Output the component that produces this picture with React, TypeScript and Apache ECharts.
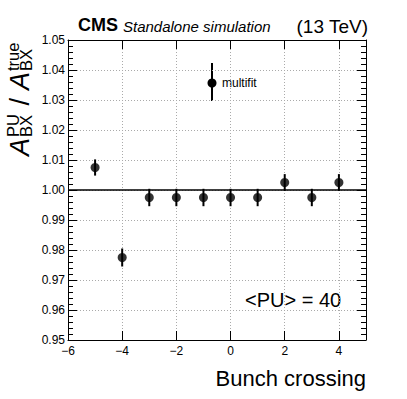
import React, { useEffect, useRef } from "react";
import * as echarts from "echarts";

const bunchCrossing = [-5, -4, -3, -2, -1, 0, 1, 2, 3, 4];
const ratio = [1.0075, 0.9775, 0.9975, 0.9975, 0.9975, 0.9975, 0.9975, 1.0025, 0.9975, 1.0025];
const ratioErr = [0.0027, 0.003, 0.0029, 0.0029, 0.0029, 0.0029, 0.0029, 0.0028, 0.0029, 0.0028];
const xRange = [-6, 5];
const yRange = [0.95, 1.05];
const referenceLine = 1.0;
const seriesName = "multifit";
const annotation = "<PU> = 40";

const FONT = "'Liberation Sans', Arial, Helvetica, sans-serif";

export default function App() {
  const ref = useRef<HTMLDivElement>(null);
  useEffect(() => {
    if (!ref.current) return;
    const chart = echarts.init(ref.current, null, { renderer: "svg" });
    const points = bunchCrossing.map((x, i) => [x, ratio[i]]);
    const errs = bunchCrossing.map((x, i) => [x, ratio[i] - ratioErr[i], ratio[i] + ratioErr[i]]);
    const fmtX = (v: number) => String(v).replace("-", "\u2212");
    const tickCommon = { show: true, inside: true, length: 9, lineStyle: { color: "#000", width: 1 } };
    const minorCommon = { show: true, splitNumber: 5, length: 5, lineStyle: { color: "#000", width: 1 } };
    const option: any = {
      animation: false,
      backgroundColor: "#fff",
      textStyle: { fontFamily: FONT },
      grid: { left: 68, right: 41, top: 40, bottom: 59, containLabel: false },
      xAxis: [
        {
          type: "value",
          min: xRange[0],
          max: xRange[1],
          interval: 2,
          position: "bottom",
          axisLine: { show: true, onZero: false, lineStyle: { color: "#000", width: 1 } },
          axisTick: tickCommon,
          splitLine: { show: true, lineStyle: { color: "#aaa", type: [1, 2], width: 1 } },
          axisLabel: {
            show: true,
            color: "#000",
            fontSize: 12,
            fontFamily: FONT,
            margin: 5,
            showMaxLabel: false,
            formatter: fmtX,
          },
        },
        {
          type: "value",
          min: xRange[0],
          max: xRange[1],
          interval: 2,
          position: "top",
          axisLine: { show: true, onZero: false, lineStyle: { color: "#000", width: 1 } },
          axisTick: tickCommon,
          splitLine: { show: false },
          axisLabel: { show: false },
        },
      ],
      yAxis: [
        {
          type: "value",
          min: yRange[0],
          max: yRange[1],
          interval: 0.01,
          position: "left",
          axisLine: { show: true, onZero: false, lineStyle: { color: "#000", width: 1 } },
          axisTick: tickCommon,
          minorTick: minorCommon,
          splitLine: { show: true, lineStyle: { color: "#aaa", type: [1, 2], width: 1 } },
          axisLabel: {
            show: true,
            color: "#000",
            fontSize: 12,
            fontFamily: FONT,
            margin: 3,
            formatter: (v: number) => v.toFixed(2),
          },
        },
        {
          type: "value",
          min: yRange[0],
          max: yRange[1],
          interval: 0.01,
          position: "right",
          axisLine: { show: true, onZero: false, lineStyle: { color: "#000", width: 1 } },
          axisTick: tickCommon,
          minorTick: minorCommon,
          splitLine: { show: false },
          axisLabel: { show: false },
        },
      ],
      series: [
        {
          type: "custom",
          name: seriesName + " err",
          xAxisIndex: 0,
          yAxisIndex: 0,
          data: errs,
          renderItem: (params: any, api: any) => {
            const x = api.value(0);
            const lo = api.coord([x, api.value(1)]);
            const hi = api.coord([x, api.value(2)]);
            return {
              type: "line",
              shape: { x1: lo[0], y1: lo[1], x2: hi[0], y2: hi[1] },
              style: { stroke: "#000", lineWidth: 2 },
            };
          },
          z: 3,
        },
        {
          type: "scatter",
          name: seriesName,
          xAxisIndex: 0,
          yAxisIndex: 0,
          data: points,
          symbol: "circle",
          symbolSize: 9,
          itemStyle: { color: "#000" },
          z: 4,
          markLine: {
            silent: true,
            symbol: ["none", "none"],
            label: { show: false },
            lineStyle: { color: "#000", width: 1.5, type: "solid" },
            data: [{ yAxis: referenceLine }],
          },
        },
      ],
      graphic: [
        {
          type: "text",
          x: 78,
          y: 25,
          style: { text: "CMS", font: `bold 18px ${FONT}`, fill: "#000", align: "left", verticalAlign: "middle" },
        },
        {
          type: "text",
          x: 123,
          y: 26.5,
          style: { text: "Standalone simulation", font: `italic 15px ${FONT}`, fill: "#000", align: "left", verticalAlign: "middle" },
        },
        {
          type: "text",
          x: 368,
          y: 26,
          style: { text: "(13 TeV)", font: `19px ${FONT}`, fill: "#000", align: "right", verticalAlign: "middle" },
        },
        {
          type: "text",
          x: 366,
          y: 378,
          style: { text: "Bunch crossing", font: `22px ${FONT}`, fill: "#000", align: "right", verticalAlign: "middle" },
        },
        {
          type: "text",
          x: 245,
          y: 299.5,
          style: { text: annotation, font: `20px ${FONT}`, fill: "#000", align: "left", verticalAlign: "middle" },
        },
        {
          type: "line",
          shape: { x1: 212, y1: 63, x2: 212, y2: 101 },
          style: { stroke: "#000", lineWidth: 2 },
        },
        {
          type: "circle",
          shape: { cx: 212, cy: 83, r: 4.5 },
          style: { fill: "#000" },
        },
        {
          type: "text",
          x: 222,
          y: 83,
          style: { text: seriesName, font: `12px ${FONT}`, fill: "#000", align: "left", verticalAlign: "middle" },
        },
        {
          type: "group",
          x: 30,
          y: 156,
          rotation: Math.PI / 2,
          children: [
            { type: "text", x: 0, y: -9.7, style: { text: "A", font: `italic 27px ${FONT}`, fill: "#000", align: "left", verticalAlign: "middle" } },
            { type: "text", x: 19, y: -17, style: { text: "PU", font: `16.5px ${FONT}`, fill: "#000", align: "left", verticalAlign: "middle" } },
            { type: "text", x: 19, y: -4, style: { text: "BX", font: `16.5px ${FONT}`, fill: "#000", align: "left", verticalAlign: "middle" } },
            { type: "text", x: 43, y: -9.7, style: { text: " / ", font: `27px ${FONT}`, fill: "#000", align: "left", verticalAlign: "middle" } },
            { type: "text", x: 66, y: -9.7, style: { text: "A", font: `italic 27px ${FONT}`, fill: "#000", align: "left", verticalAlign: "middle" } },
            { type: "text", x: 85, y: -17, style: { text: "true", font: `16.5px ${FONT}`, fill: "#000", align: "left", verticalAlign: "middle" } },
            { type: "text", x: 85, y: -4, style: { text: "BX", font: `16.5px ${FONT}`, fill: "#000", align: "left", verticalAlign: "middle" } },
          ],
        },
      ],
    };
    chart.setOption(option);
    return () => chart.dispose();
  }, []);
  return <div ref={ref} style={{ width: 407, height: 399, position: "absolute", left: 0, top: 0 }} />;
}
